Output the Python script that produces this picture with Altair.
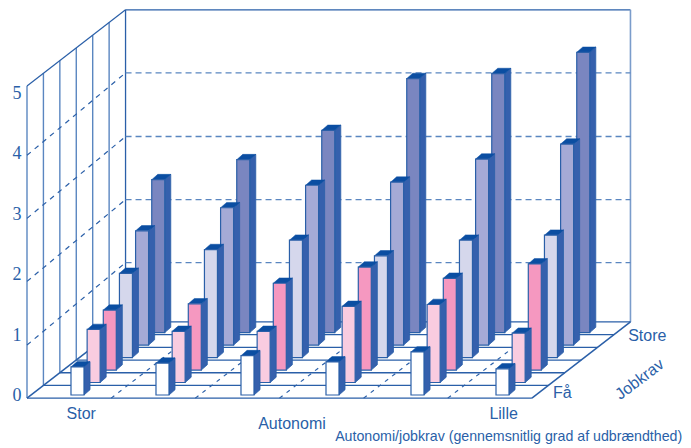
import altair as alt
import pandas as pd

# bar heights, one list per Autonomi column (Stor -> Lille); each list runs Faa -> Store
col1 = [0.45, 0.85, 0.96, 1.35, 1.83, 2.45]
col2 = [0.51, 0.82, 1.06, 1.73, 2.20, 2.77]
col3 = [0.63, 0.82, 1.39, 1.88, 2.56, 3.24]
col4 = [0.53, 1.22, 1.65, 1.63, 2.61, 4.07]
col5 = [0.69, 1.25, 1.47, 1.88, 2.98, 4.15]
col6 = [0.42, 0.79, 1.70, 1.96, 3.22, 4.49]
columns = [col1, col2, col3, col4, col5, col6]
row_colors = ["#ffffff", "#f9cce0", "#f598c0", "#d5d7ec", "#a5aad6", "#7a86c0"]
y_ticks = ["0", "1", "2", "3", "4", "5"]
back_levels = [0.95, 1.96, 2.97, 3.99]
left_levels = [0.85, 1.87, 2.88, 3.89]

BLUE = "#2a5fa8"
LINE = "#5a86c0"
SIDE = "#3560ad"
CAP = "#0b4ea2"

DX, DV = 0.19, 0.2        # oblique shift per Jobkrav row
BW, SX, SV = 0.153, 0.071, 0.085
A0, A1 = -0.47, 5.47      # floor extent along Autonomi
J0, JSTEP = -0.25, 1.017  # floor extent along Jobkrav
J1 = J0 + 6 * JSTEP
TOP = 5.0

xs = alt.Scale(domain=[-0.741, 7.2], range=[0, 675], nice=False, zero=False)
ys = alt.Scale(domain=[-0.785, 6.20], range=[436, 0], nice=False, zero=False)


def X(a, j):
    return a + j * DX


def Y(j, v):
    return v + j * DV


def enc_x(f="x"):
    return alt.X(f"{f}:Q", scale=xs, axis=None)


def enc_y(f="y"):
    return alt.Y(f"{f}:Q", scale=ys, axis=None)


def rules(segs, color=LINE, width=1.0, dash=None):
    df = pd.DataFrame(segs, columns=["x", "y", "x2", "y2"])
    kw = {"strokeDash": dash} if dash else {}
    return alt.Chart(df).mark_rule(color=color, strokeWidth=width, **kw).encode(
        x=enc_x(), y=enc_y(), x2="x2:Q", y2="y2:Q"
    )


def seg(a, j, v, a2, j2, v2):
    return (X(a, j), Y(j, v), X(a2, j2), Y(j2, v2))


layers = []
# back wall
layers.append(rules([seg(A0, J1, 0, A0, J1, TOP), seg(A0, J1, TOP, A1, J1, TOP)], BLUE, 1.3))
layers.append(rules([seg(A1, J1, 0, A1, J1, TOP)], "#7a9ccb", 1.6))
# left wall
wall = [seg(A0, J0 + k * JSTEP, 0, A0, J0 + k * JSTEP, TOP) for k in range(6)]
layers.append(rules(wall, LINE, 1.4))
layers.append(rules([seg(A0, J0, TOP, A0, J1, TOP)], BLUE, 1.2))
# dashed level lines
layers.append(rules([seg(A0, J1, v, A1, J1, v) for v in back_levels], LINE, 1.4, [6, 4]))
layers.append(rules([(X(A0, J0), Y(J0, l), X(A0, J1), Y(J1, b)) for l, b in zip(left_levels, back_levels)], BLUE, 1.2, [5, 5]))
# floor
floor = [seg(A0, J0 + k * JSTEP, 0, A1, J0 + k * JSTEP, 0) for k in range(7)]
layers.append(rules(floor, BLUE, 1.3))
layers.append(rules([seg(A0, J0, 0, A0, J1, 0), seg(A1, J0, 0, A1, J1, 0)], BLUE, 1.5))
step = (A1 - A0) / 6
layers.append(rules([seg(A0 + k * step, J0, 0, A0 + k * step, J1, 0) for k in range(1, 6)], BLUE, 1.2, [4, 5]))

# bars, back row first
for j in range(5, -1, -1):
    front, side, cap = [], [], []
    for a, col in enumerate(columns):
        v = col[j]
        x0 = X(a, j)
        x1 = x0 + BW
        base = Y(j, 0)
        top = Y(j, v)
        front.append(dict(x=x0, x2=x1, y=base, y2=top))
        side.append(dict(a=a, x=x1, y=base, y2=top))
        side.append(dict(a=a, x=x1 + SX, y=base + SV, y2=top + SV))
        cap.append(dict(a=a, y=top, x=x0, x2=x1))
        cap.append(dict(a=a, y=top + SV, x=x0 + SX, x2=x1 + SX))
    layers.append(
        alt.Chart(pd.DataFrame(side)).mark_area(color=SIDE, stroke=BLUE, strokeWidth=0.8).encode(
            x=enc_x(), y=enc_y(), y2="y2:Q", detail="a:N"
        )
    )
    layers.append(
        alt.Chart(pd.DataFrame(cap)).mark_area(color=CAP, orient="horizontal", stroke=CAP, strokeWidth=0.5).encode(
            y=enc_y(), x=enc_x(), x2="x2:Q", detail="a:N"
        )
    )
    layers.append(
        alt.Chart(pd.DataFrame(front)).mark_rect(color=row_colors[j], stroke=BLUE, strokeWidth=1.2).encode(
            x=enc_x(), x2="x2:Q", y=enc_y(), y2="y2:Q"
        )
    )


def label(text, x, y, size=16, font="Liberation Sans", align="center", angle=0):
    df = pd.DataFrame([dict(t=text, x=x, y=y)])
    kw = {"angle": angle} if angle else {}
    return alt.Chart(df).mark_text(
        font=font, fontSize=size, color=BLUE, align=align, baseline="middle", **kw
    ).encode(x=enc_x(), y=enc_y(), text="t:N")


# y tick labels, evenly stepped up the left wall
for i, t in enumerate(y_ticks):
    layers.append(label(t, -0.635, -0.02 + i * 0.97, size=18, font="Liberation Serif"))

layers.append(label("Stor", 0.12, -0.31))
layers.append(label("Autonomi", 2.60, -0.47))
layers.append(label("Lille", 5.09, -0.31))
layers.append(label("Få", 5.78, 0.03))
layers.append(label("Store", 6.78, 0.94))
layers.append(label("Jobkrav", 6.69, 0.25, angle=323))
layers.append(label("Autonomi/jobkrav (gennemsnitlig grad af udbrændthed)", 7.19, -0.67, size=14.2, align="right"))

chart = alt.layer(*layers).properties(
    width=675, height=436, padding=0,
    autosize=alt.AutoSizeParams(type="none"),
).configure_view(stroke=None)

chart.save("out.html", embed_options={"renderer": "svg", "actions": False})
